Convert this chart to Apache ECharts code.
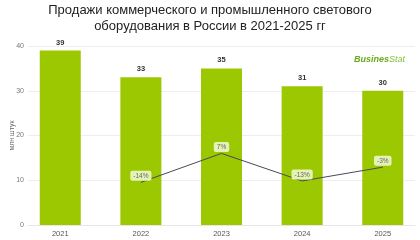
<!DOCTYPE html>
<html lang="ru">
<head>
  <meta charset="UTF-8">
  <title>Продажи светового оборудования</title>
  <style>
    body { margin: 0; padding: 0; background: #fff; }
    #chart { width: 420px; height: 240px; }
  </style>
  <script src="https://cdnjs.cloudflare.com/ajax/libs/echarts/6.0.0/echarts.min.js"></script>
</head>
<body>
  <div id="chart"></div>
  <script>
    // data
    const years = [2021, 2022, 2023, 2024, 2025];
    const sales = [39, 33, 35, 31, 30];            // млн штук
    const growthYears = [2022, 2023, 2024, 2025];
    const growth = [-14, 7, -13, -3];              // % к предыдущему году

    const green = '#9bc800';
    const font = 'Liberation Sans, Arial, sans-serif';

    let chart = echarts.init(document.getElementById('chart'));
    let option = {
      animation: false,
      textStyle: { fontFamily: font },
      title: {
        text: 'Продажи коммерческого и промышленного светового\nоборудования в России в 2021-2025 гг',
        left: 'center',
        top: 2,
        padding: 0,
        textStyle: { fontSize: 13, fontWeight: 'normal', color: '#222', lineHeight: 16, fontFamily: font }
      },
      graphic: [{
        type: 'text',
        right: 15,
        top: 55,
        style: {
          text: '{a|Busines}{b|Stat}',
          rich: {
            a: { fontSize: 9, fontWeight: 'bold', fontStyle: 'italic', fill: '#6aaa1c', fontFamily: font },
            b: { fontSize: 9, fontStyle: 'italic', fill: '#8cbf3c', fontFamily: font }
          }
        }
      }],
      grid: { left: 28, right: 5, top: 46, bottom: 15, outerBoundsMode: 'none', containLabel: false },
      xAxis: {
        type: 'value',
        min: 2020.6,
        max: 2025.4,
        splitLine: { show: false },
        axisLine: { show: true, onZero: false, lineStyle: { color: '#e6e6e6' } },
        axisTick: { show: false },
        axisLabel: {
          customValues: years,
          formatter: v => String(v),
          color: '#555',
          fontSize: 7.5,
          margin: 5
        }
      },
      yAxis: [{
        type: 'value',
        min: 0,
        max: 40,
        interval: 10,
        name: 'млн штук',
        nameLocation: 'middle',
        nameGap: 12,
        nameMoveOverlap: false,
        nameTextStyle: { color: '#666', fontSize: 7 },
        axisLine: { show: false },
        axisTick: { show: false },
        axisLabel: { color: '#777', fontSize: 7, margin: 4 },
        splitLine: { lineStyle: { color: '#eeeeee' } }
      }, {
        type: 'value',
        min: -45,
        max: 85,
        show: false,
        splitLine: { show: false }
      }],
      series: [{
        type: 'bar',
        data: years.map((y, i) => [y, sales[i]]),
        barWidth: 41,
        itemStyle: { color: green },
        label: {
          show: true,
          position: 'top',
          distance: 4,
          color: '#333',
          fontSize: 7.5,
          fontWeight: 'bold'
        }
      }, {
        type: 'line',
        yAxisIndex: 1,
        data: growthYears.map((y, i) => [y, growth[i]]),
        symbol: 'circle',
        symbolSize: 1,
        showSymbol: true,
        itemStyle: { color: 'rgba(0,0,0,0)' },
        lineStyle: { color: '#4a4a58', width: 1 },
        label: {
          show: true,
          position: 'top',
          distance: 1,
          formatter: p => p.value[1] + '%',
          color: '#666',
          fontSize: 6.5,
          backgroundColor: '#e4f3b5',
          padding: [2, 3, 1, 3],
          borderRadius: 2
        }
      }]
    };
    chart.setOption(option);
  </script>
</body>
</html>
